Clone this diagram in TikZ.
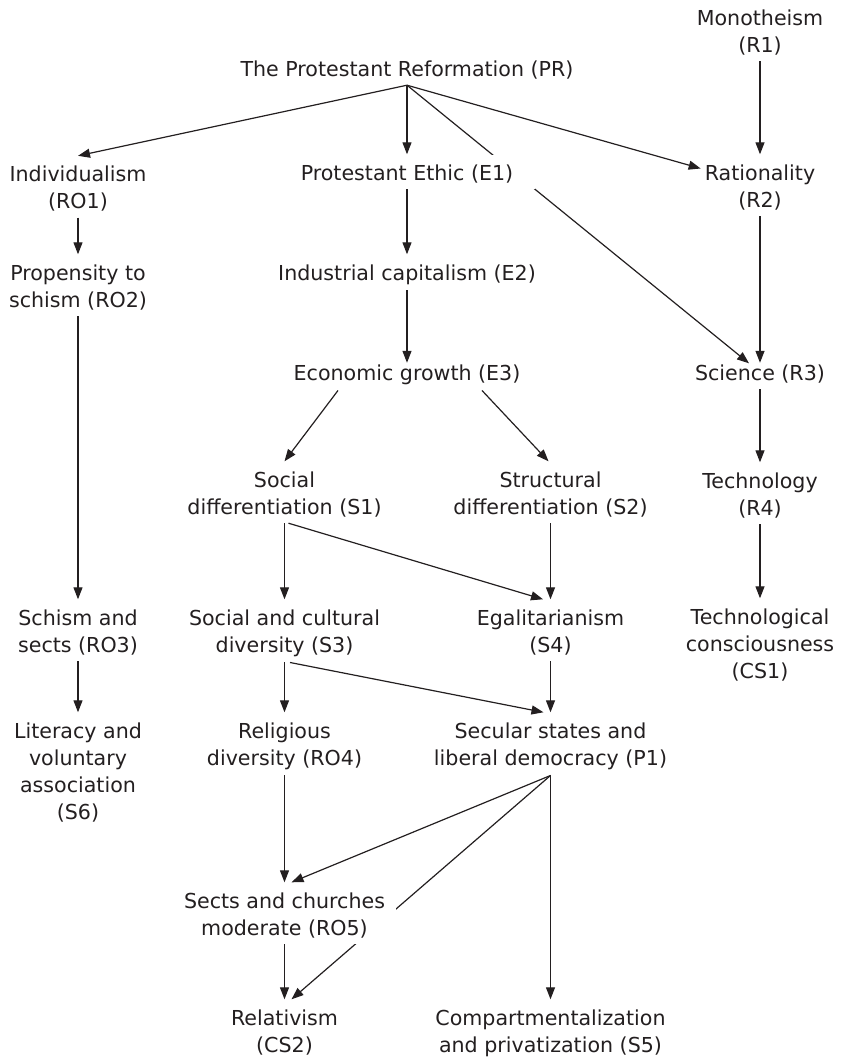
\documentclass[tikz,border=0pt]{standalone}
\usepackage{fontspec}
\setmainfont{DejaVu Sans}
\usetikzlibrary{arrows.meta}
\pgfdeclarelayer{bg}
\pgfsetlayers{bg,main}
\definecolor{ink}{RGB}{35,31,32}
\newcommand\lnstrut{\rule[-3pt]{0pt}{22.5pt}}
\newcommand\ml[1]{\vtop{\baselineskip=27pt\lineskiplimit=0pt\halign{\hfil\lnstrut##\hfil\cr#1\crcr}}}
\begin{document}
\begin{tikzpicture}[x=1pt,y=-1pt,
  box/.style={anchor=base,inner xsep=4pt,inner ysep=6pt,text=ink,
    font=\fontsize{20.6}{27}\selectfont},
  mask/.style={fill=white},
  arr/.style={draw=ink,line width=1.2pt,-{Triangle[length=12pt,width=9pt]}}]
\useasboundingbox (0,0) rectangle (845,1058);
% nodes
\node[box] (R1) at (760,25) {\ml{Monotheism\cr (R1)}};
\node[box] (PR) at (407,76) {\ml{The Protestant Reformation (PR)}};
\node[box] (RO1) at (78,181.5) {\ml{Individualism\cr (RO1)}};
\node[box,mask,inner xsep=22pt] (E1) at (407,180) {\ml{Protestant Ethic (E1)}};
\node[box] (R2) at (760,180) {\ml{Rationality\cr (R2)}};
\node[box] (RO2) at (78,280) {\ml{Propensity to\cr schism (RO2)}};
\node[box] (E2) at (407,280) {\ml{Industrial capitalism (E2)}};
\node[box] (E3) at (407,380) {\ml{Economic growth (E3)}};
\node[box] (R3) at (760,380) {\ml{Science (R3)}};
\node[box] (S1) at (284.5,487) {\ml{Social\cr differentiation (S1)}};
\node[box] (S2) at (550.5,487) {\ml{Structural\cr differentiation (S2)}};
\node[box] (R4) at (760,488) {\ml{Technology\cr (R4)}};
\node[box] (RO3) at (78,625) {\ml{Schism and\cr sects (RO3)}};
\node[box] (S3) at (284.5,625) {\ml{Social and cultural\cr diversity (S3)}};
\node[box] (S4) at (550.5,625) {\ml{Egalitarianism\cr (S4)}};
\node[box] (CS1) at (760,624) {\ml{Technological\cr consciousness\cr (CS1)}};
\node[box] (S6) at (78,738) {\ml{Literacy and\cr voluntary\cr association\cr (S6)}};
\node[box] (RO4) at (284.5,738) {\ml{Religious\cr diversity (RO4)}};
\node[box] (P1) at (550.5,738) {\ml{Secular states and\cr liberal democracy (P1)}};
\node[box,mask,inner xsep=11.5pt] (RO5) at (284.5,908) {\ml{Sects and churches\cr moderate (RO5)}};
\node[box] (CS2) at (284.5,1025) {\ml{Relativism\cr (CS2)}};
\node[box] (S5) at (550.5,1025) {\ml{Compartmentalization\cr and privatization (S5)}};
% connectors
\begin{pgfonlayer}{bg}
\draw[arr] (PR.south) -- (RO1.north);
\draw[arr] (PR.south) -- (E1.north);
\draw[arr] (PR.south) -- (R2);
\draw[arr] (PR.south) -- ([xshift=-11pt,yshift=-9pt]R3.north);
\draw[arr] (R1.south) -- (R2.north);
\draw[arr] (RO1.south) -- (RO2.north);
\draw[arr] (RO2.south) -- (RO3.north);
\draw[arr] (RO3.south) -- (S6.north);
\draw[arr] (E1.south) -- (E2.north);
\draw[arr] (E2.south) -- ([yshift=-8.5pt]E3.north);
\draw[arr] (R2.south) -- ([yshift=-8.5pt]R3.north);
\draw[arr] (R3.south) -- (R4.north);
\draw[arr] (R4.south) -- (CS1.north);
\draw[arr] ([xshift=-69pt]E3.south) -- (S1.north);
\draw[arr] ([xshift=75pt]E3.south) -- ([xshift=-2pt]S2.north);
\draw[arr] (S1.south) -- (S3.north);
\draw[arr] ([xshift=4pt]S1.south) -- ([xshift=-7.5pt]S4.north);
\draw[arr] (S2.south) -- (S4.north);
\draw[arr] (S3.south) -- (RO4.north);
\draw[arr] ([xshift=5.5pt]S3.south) -- ([xshift=-7pt]P1.north);
\draw[arr] (S4.south) -- (P1.north);
\draw[arr] (RO4.south) -- (RO5.north);
\draw[arr] (P1.south) -- ([xshift=7pt]RO5.north);
\draw[arr] (P1.south) -- ([xshift=7pt]CS2.north);
\draw[arr] (P1.south) -- (S5.north);
\draw[arr] (RO5.south) -- (CS2.north);
\end{pgfonlayer}
\end{tikzpicture}
\end{document}
